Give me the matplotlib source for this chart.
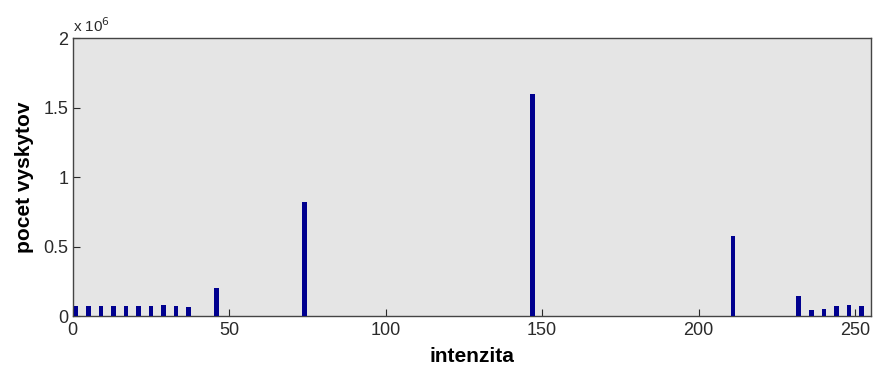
import matplotlib
matplotlib.use("Agg")
import matplotlib.pyplot as plt
from matplotlib.ticker import FixedLocator

plt.rcParams['font.family'] = ['Liberation Sans', 'DejaVu Sans']

intensity = [1, 5, 9, 13, 17, 21, 25, 29, 33, 37, 46, 74, 147, 211,
             232, 236, 240, 244, 248, 252]
counts = [72000, 72000, 72000, 72000, 72000, 72000, 72000, 81000, 72000, 63000,
          200000, 820000, 1597000, 575000,
          141000, 43000, 53000, 72000, 81000, 72000]
x_ticks = [0, 50, 100, 150, 200, 250]
y_ticks = [0, 0.5, 1, 1.5, 2]
y_tick_labels = ['0', '0.5', '1', '1.5', '2']

fig = plt.figure(figsize=(8.76, 3.69), dpi=100)
ax = fig.add_axes([0.083, 0.1436, 0.911, 0.7534])
ax.set_facecolor('#e5e5e5')
ax.bar(intensity, [c / 1e6 for c in counts], width=1.45, color='#00008f',
       edgecolor='none', zorder=3)
ax.set_xlim(0, 255)
ax.set_ylim(0, 2)
ax.xaxis.set_major_locator(FixedLocator(x_ticks))
ax.set_yticks(y_ticks)
ax.set_yticklabels(y_tick_labels)
for s in ax.spines.values():
    s.set_color('#444444')
    s.set_linewidth(1.0)
ax.tick_params(direction='in', length=5, width=0.8, colors='#2a2a2a',
               labelsize=13, top=False, right=False)
ax.tick_params(axis='x', pad=4)
ax.tick_params(axis='y', pad=3)
ax.set_xlabel('intenzita', fontsize=15, fontweight='bold', labelpad=6, color='black')
ax.set_ylabel('pocet vyskytov', fontsize=15, fontweight='bold', labelpad=7, color='black')
ax.text(0.0, 1.01, r'x 10$^6$', transform=ax.transAxes, fontsize=11,
        ha='left', va='bottom', color='#2a2a2a')

fig.savefig('out.png', dpi=100, facecolor='white')
